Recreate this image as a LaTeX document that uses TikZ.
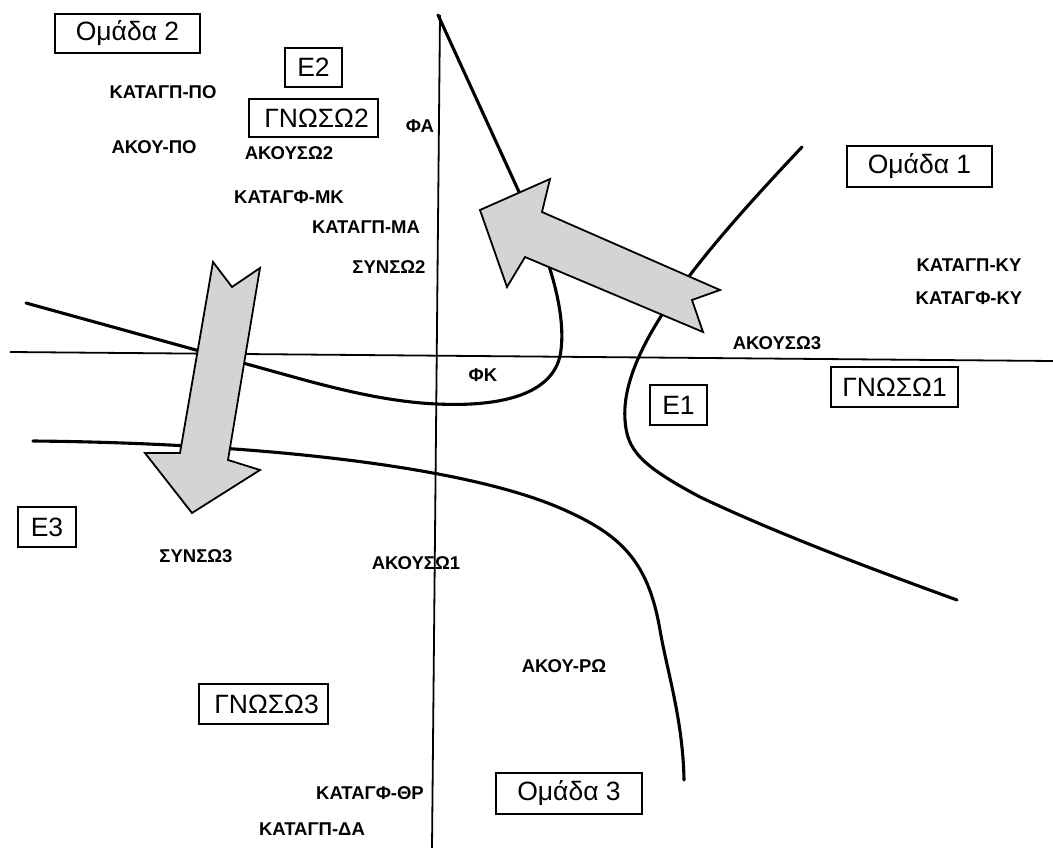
\documentclass[tikz,border=0pt]{standalone}
\usepackage{fontspec}
\setmainfont{Liberation Sans}
\begin{document}
\begin{tikzpicture}[x=1pt,y=-1pt,
  curve/.style={line width=3.1pt,line cap=round},
  axis/.style={line width=1.8pt},
  bigarrow/.style={draw=black,line width=1.8pt,fill=black!17,line join=miter},
  lbl/.style={font=\fontsize{18.5}{20}\selectfont\bfseries,inner sep=0pt},
  box/.style={draw,line width=1.6pt,inner sep=0pt,font=\fontsize{26.5}{30}\selectfont}]
\useasboundingbox[fill=white] (0,0) rectangle (1053,848);

% labels
\node[lbl] (kpo) at (163,92) {ΚΑΤΑΓΠ-ΠΟ};
\node[lbl] (apo) at (154,147) {ΑΚΟΥ-ΠΟ};
\node[lbl] (as2) at (289,153) {ΑΚΟΥΣΩ2};
\node[lbl] (fa) at (420,126) {ΦΑ};
\node[lbl] (kmk) at (289,197) {ΚΑΤΑΓΦ-ΜΚ};
\node[lbl] (kma) at (366,227) {ΚΑΤΑΓΠ-ΜΑ};
\node[lbl] (sy2) at (389,267) {ΣΥΝΣΩ2};
\node[lbl] (fk) at (483,375) {ΦΚ};
\node[lbl] (as3) at (777,343) {ΑΚΟΥΣΩ3};
\node[lbl] (kky) at (969,265) {ΚΑΤΑΓΠ-ΚΥ};
\node[lbl] (kfky) at (969,298) {ΚΑΤΑΓΦ-ΚΥ};
\node[lbl] (sy3) at (196,556) {ΣΥΝΣΩ3};
\node[lbl] (as1) at (416,563) {ΑΚΟΥΣΩ1};
\node[lbl] (kth) at (370,793) {ΚΑΤΑΓΦ-ΘΡ};
\node[lbl] (kda) at (312,829) {ΚΑΤΑΓΠ-ΔΑ};
\node[lbl] (aro) at (564,666) {ΑΚΟΥ-ΡΩ};

% boxes
\node[box,minimum width=145pt,minimum height=39pt] (om2) at (127.5,33.5) {Ομάδα 2};
\node[box,minimum width=57pt,minimum height=39pt] (e2) at (313.5,67.5) {Ε2};
\node[box,minimum width=129pt,minimum height=38pt] (gn2) at (313.5,118) {\hspace{6pt}ΓΝΩΣΩ2};
\node[box,minimum width=57pt,minimum height=40pt] (e1) at (678.5,405) {Ε1};
\node[box,minimum width=145pt,minimum height=41pt] (om1) at (919.5,166.5) {Ομάδα 1};
\node[box,minimum width=127pt,minimum height=40pt] (gn1) at (894.5,387) {ΓΝΩΣΩ1};
\node[box,minimum width=58pt,minimum height=40pt] (e3) at (47,527) {Ε3};
\node[box,minimum width=129pt,minimum height=40pt] (gn3) at (263.5,704) {\hspace{6pt}ΓΝΩΣΩ3};
\node[box,minimum width=146pt,minimum height=41pt] (om3) at (569,793.5) {Ομάδα 3};

% axes
\coordinate (vt) at (440,15);
\coordinate (vb) at (432,848);
\coordinate (hl) at (10,352);
\coordinate (hr) at (1053,361);
\draw[axis] (vt) -- (vb);
\draw[axis] (hl) -- (hr);

% curves
\draw[curve] (438,15) -- (525,205) .. controls (548,255) and (566,310) .. (561,350)
  .. controls (556,395) and (500,407) .. (437,404)
  .. controls (390,402) and (340,390) .. (290,376) -- (26,303);
\draw[curve] (802,147) .. controls (700,255) and (620,350) .. (625,420)
  .. controls (627,450) and (640,465) .. (700,497)
  .. controls (780,535) and (880,572) .. (957,600);
\draw[curve] (33,441) .. controls (250,443) and (460,465) .. (560,508)
  .. controls (620,534) and (648,560) .. (660,630)
  .. controls (667,671) and (683,720) .. (684,780);

% big arrows
\draw[bigarrow] (480,210) -- (550,179) -- (542,212) -- (720,290) -- (692,300)
  -- (703,332) -- (525,257) -- (507,287) -- cycle;
\draw[bigarrow] (213,262) -- (232,287) -- (260,268) -- (228,460) -- (260,470)
  -- (192,513) -- (145,453) -- (180,453) -- cycle;
\end{tikzpicture}
\end{document}
